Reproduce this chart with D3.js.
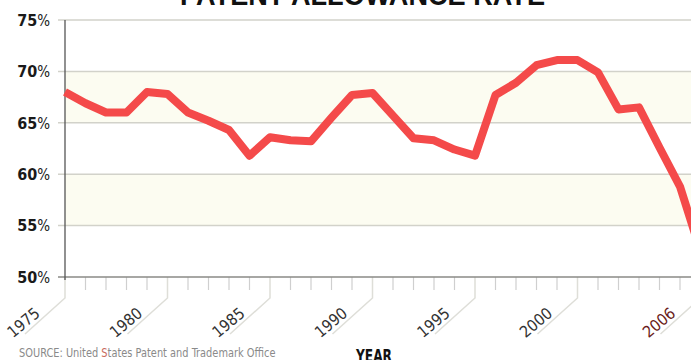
<!DOCTYPE html>
<html>
<head>
<meta charset="utf-8">
<script src="https://cdn.jsdelivr.net/npm/d3@7"></script>
<style>
  html, body { margin: 0; padding: 0; background: #fff; }
  svg { display: block; }
</style>
</head>
<body>
<svg id="chart" width="691" height="360"></svg>
<script>
const years = [1975,1976,1977,1978,1979,1980,1981,1982,1983,1984,1985,1986,1987,1988,1989,1990,
               1991,1992,1993,1994,1995,1996,1997,1998,1999,2000,2001,2002,2003,2004,2005,2006];
const allowanceRate = [68.0,66.9,66.0,66.0,68.0,67.8,66.0,65.2,64.3,61.8,63.6,63.3,63.2,65.5,67.7,67.9,
                       65.7,63.5,63.3,62.4,61.8,67.7,68.9,70.6,71.1,71.1,69.9,66.3,66.5,62.6,58.8,52.5];
const yTicks = [50,55,60,65,70,75];
const labelYears = [1975,1980,1985,1990,1995,2000,2006];
const titleText = "PATENT ALLOWANCE RATE";
const sourceText = ["SOURCE: United ", "S", "tates Patent and Trademark Office"];
const axisTitle = "YEAR";

const svg = d3.select("#chart");
const condensed = "'Liberation Sans Narrow', 'DejaVu Sans Condensed', 'Arial Narrow', sans-serif";

const x = d3.scaleLinear().domain([1975, 2006]).range([65, 700.5]);
const y = d3.scaleLinear().domain([50, 75]).range([277, 20]);

// alternating bands
const bands = d3.pairs(yTicks);
svg.append("g").selectAll("rect").data(bands).join("rect")
  .attr("x", 65).attr("width", 691 - 65)
  .attr("y", d => y(d[1])).attr("height", d => y(d[0]) - y(d[1]))
  .attr("fill", (d, i) => i % 2 === 1 ? "#fcfcf1" : "#ffffff");

// gridlines
svg.append("g").selectAll("line").data(yTicks.filter(t => t > 50)).join("line")
  .attr("x1", 58).attr("x2", 691)
  .attr("y1", d => y(d)).attr("y2", d => y(d))
  .attr("stroke", "#d2d2ca").attr("stroke-width", 1.5);

// title (cropped at top)
svg.append("text")
  .attr("x", 180).attr("y", 5)
  .attr("textLength", 365).attr("lengthAdjust", "spacingAndGlyphs")
  .attr("font-family", "'Liberation Sans', Arial, sans-serif")
  .attr("font-weight", "bold").attr("font-size", 30).attr("fill", "#111")
  .text(titleText);

// y axis labels
const yl = svg.append("g").selectAll("text").data(yTicks).join("text")
  .attr("x", 50).attr("y", d => y(d)).attr("dy", "0.36em")
  .attr("text-anchor", "end")
  .attr("font-family", condensed).attr("font-size", 16).attr("fill", "#1a1a1a");
yl.append("tspan").attr("font-weight", "bold").text(d => d);
yl.append("tspan").attr("font-size", 15).text("%");

// x small ticks
svg.append("g").selectAll("line").data(years.filter(yr => !labelYears.includes(yr))).join("line")
  .attr("x1", d => x(d)).attr("x2", d => x(d))
  .attr("y1", 277).attr("y2", 290)
  .attr("stroke", "#cfcfcf").attr("stroke-width", 1.2);

// long ticks + diagonal label leaders
const ang = 42 * Math.PI / 180;
svg.append("g").selectAll("path").data(labelYears).join("path")
  .attr("d", d => {
    const tx = x(d);
    return `M${tx},277 L${tx},298 L${tx - 40},${298 + 40 * Math.tan(ang)}`;
  })
  .attr("fill", "none").attr("stroke", "#dedeD8").attr("stroke-width", 1.5);

// x axis line
svg.append("line").attr("x1", 58).attr("x2", 691).attr("y1", 277).attr("y2", 277)
  .attr("stroke", "#8a8a86").attr("stroke-width", 1.5);
// y axis line
svg.append("line").attr("x1", 65).attr("x2", 65).attr("y1", 20).attr("y2", 280)
  .attr("stroke", "#555").attr("stroke-width", 1.3);

// x labels
svg.append("g").selectAll("text").data(labelYears).join("text")
  .attr("transform", d => `translate(${x(d) - 24},${315}) rotate(-40)`)
  .attr("text-anchor", "end")
  .attr("font-family", condensed).attr("font-size", 16)
  .attr("fill", d => d === 2006 ? "#6b1c20" : "#333")
  .text(d => d);

// line
const line = d3.line().x((d, i) => x(years[i])).y(d => y(d)).curve(d3.curveLinear);
svg.append("path").datum(allowanceRate)
  .attr("d", line)
  .attr("fill", "none").attr("stroke", "#f44a4a").attr("stroke-width", 8)
  .attr("stroke-linejoin", "round").attr("stroke-linecap", "butt");

// source
const src = svg.append("text")
  .attr("transform", "translate(19,357) scale(0.84,1)")
  .attr("font-family", condensed).attr("font-size", 13).attr("fill", "#8a8a8a");
src.append("tspan").text(sourceText[0]);
src.append("tspan").attr("fill", "#c96a5a").text(sourceText[1]);
src.append("tspan").text(sourceText[2]);

// axis title
svg.append("text")
  .attr("x", 356).attr("y", 362)
  .attr("textLength", 36).attr("lengthAdjust", "spacingAndGlyphs")
  .attr("font-family", condensed).attr("font-weight", "bold").attr("font-size", 18).attr("fill", "#111")
  .text(axisTitle);
</script>
</body>
</html>
